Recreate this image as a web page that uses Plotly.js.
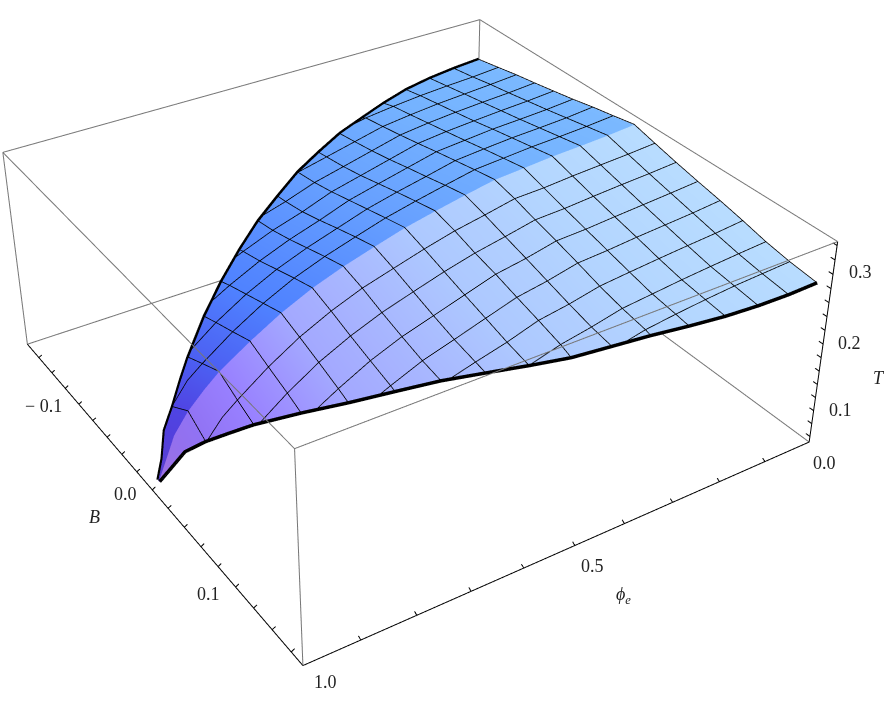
<!DOCTYPE html>
<html>
<head>
<meta charset="utf-8">
<script src="https://cdn.plot.ly/plotly-3.0.1.min.js"></script>
<style>
  html, body { margin: 0; width: 887px; height: 710px; overflow: hidden; background: #fff; }
  /* the reference has a narrow lens, so the gl scene is larger than the window */
  #graph { position: absolute; left: -146px; top: -503px; width: 1100px; height: 1599px; }
</style>
</head>
<body>
<div id="graph"></div>
<script>
// rows of the surface: phi_e = k/16 carry mesh lines, the others only round off the tip
const phiRows = [0, 0.0625, 0.125, 0.1875, 0.25, 0.3125, 0.375, 0.4375, 0.5, 0.5625,
  0.625, 0.6875, 0.75, 0.8125, 0.875, 0.905, 0.9375, 0.96, 0.98, 0.995];
const plainRows = [0.905, 0.96, 0.98, 0.995];
// B of the ridge and half width of the region in each row
const bCentre = [-0.0085, -0.0075, -0.0065, -0.0058, -0.0052, -0.0046, -0.004, -0.0031, -0.0023,
  -0.0012, -0.0001, 0.0014, 0.0029, 0.005, 0.0075, 0.0085, 0.0094, 0.0055, 0.0071, 0.0065];
const halfWidth = [0.1695, 0.1688, 0.1669, 0.1636, 0.158, 0.1511, 0.144, 0.1354, 0.1256,
  0.1145, 0.1021, 0.0882, 0.0733, 0.0568, 0.0393, 0.0303, 0.0203, 0.0128, 0.0051, 0.001];
const bStep = 0.0209;
// T in each row, from the ridge out: one value per B line, the last one on the black edge
const tLower = [
  [0.332, 0.3236, 0.3156, 0.3083, 0.3015, 0.294, 0.2856, 0.2795, 0.275],
  [0.330, 0.322, 0.314, 0.3065, 0.299, 0.2915, 0.2845, 0.279, 0.2745],
  [0.329, 0.321, 0.313, 0.305, 0.2975, 0.29, 0.283, 0.2785, 0.274],
  [0.328, 0.3195, 0.311, 0.303, 0.2955, 0.2875, 0.2805, 0.276, 0.2725],
  [0.3254, 0.317, 0.3085, 0.3005, 0.2925, 0.2845, 0.277, 0.2725, 0.2695],
  [0.323, 0.3163, 0.3075, 0.2994, 0.2906, 0.2811, 0.2735, 0.268, 0.2655],
  [0.3156, 0.308, 0.299, 0.2905, 0.2815, 0.2725, 0.2645, 0.2595],
  [0.308, 0.301, 0.2917, 0.2845, 0.2754, 0.2669, 0.2578, 0.2515],
  [0.2996, 0.291, 0.2815, 0.272, 0.263, 0.254, 0.2467],
  [0.2886, 0.280, 0.270, 0.260, 0.251, 0.2445, 0.2415],
  [0.277, 0.2688, 0.258, 0.2483, 0.2394, 0.234],
  [0.2635, 0.254, 0.243, 0.233, 0.2235, 0.221],
  [0.2455, 0.2351, 0.2242, 0.2126, 0.206],
  [0.224, 0.212, 0.2005, 0.191],
  [0.2003, 0.185, 0.173],
  [0.184, 0.170, 0.160],
  [0.163, 0.1445],
  [0.129, 0.121],
  [0.10, 0.093],
  [0.072, 0.072]
];
const tUpper = [
  [0.332, 0.3255, 0.3195, 0.3125, 0.3064, 0.3005, 0.295, 0.2885, 0.2815],
  [0.330, 0.3235, 0.317, 0.3105, 0.3045, 0.2985, 0.293, 0.2865, 0.2805],
  [0.329, 0.3225, 0.316, 0.3095, 0.3035, 0.2975, 0.2915, 0.2855, 0.2795],
  [0.328, 0.3215, 0.315, 0.3085, 0.3015, 0.2955, 0.2895, 0.2835, 0.2775],
  [0.3254, 0.319, 0.3125, 0.3055, 0.299, 0.2925, 0.286, 0.28, 0.2743],
  [0.323, 0.3165, 0.3095, 0.3025, 0.295, 0.288, 0.2815, 0.2755, 0.2707],
  [0.3156, 0.3085, 0.3005, 0.293, 0.285, 0.278, 0.272, 0.267],
  [0.308, 0.3005, 0.2925, 0.284, 0.2755, 0.2685, 0.263, 0.2604],
  [0.2996, 0.2915, 0.283, 0.2745, 0.266, 0.259, 0.254],
  [0.2886, 0.280, 0.2705, 0.2605, 0.2515, 0.2455, 0.2435],
  [0.277, 0.268, 0.258, 0.248, 0.2395, 0.2343],
  [0.2635, 0.254, 0.2435, 0.233, 0.2245, 0.222],
  [0.2455, 0.235, 0.2245, 0.214, 0.2077],
  [0.224, 0.2125, 0.2015, 0.193],
  [0.2003, 0.186, 0.173],
  [0.184, 0.171, 0.160],
  [0.163, 0.143],
  [0.129, 0.119],
  [0.10, 0.095],
  [0.072, 0.072]
];

const phiRange = [0, 1];
const bRange = [-0.178, 0.172];
const tRange = [0.0513, 0.3454];

const phiTicks = [0.1, 0.2, 0.3, 0.4, 0.5, 0.6, 0.7, 0.8, 0.9];
const bTicks = [-0.16, -0.14, -0.12, -0.1, -0.08, -0.06, -0.04, -0.02, 0, 0.02, 0.04, 0.06, 0.08, 0.1, 0.12, 0.14, 0.16];
const tTicks = [0.06, 0.08, 0.1, 0.12, 0.14, 0.16, 0.18, 0.2, 0.22, 0.24, 0.26, 0.28, 0.3, 0.32, 0.34];

// surface shade per row, [phi, r, g, b]
const upperColours = [[0, 123, 185, 255], [0.25, 116, 178, 255], [0.5, 102, 159, 255], [0.75, 79, 130, 255],
  [0.875, 76, 95, 242], [0.95, 80, 64, 224], [1, 90, 64, 208]];
const lowerColours = [[0, 184, 220, 255], [0.25, 180, 214, 255], [0.5, 173, 200, 255], [0.75, 163, 168, 255],
  [0.875, 152, 128, 255], [0.95, 144, 112, 242], [1, 159, 112, 224]];

const lift = 0.0008;

function bAt(i, sign, j, row) {
  if (j < row.length - 1) return bCentre[i] + sign * Math.min(j * bStep, halfWidth[i]);
  return bCentre[i] + sign * halfWidth[i];
}

function shade(stops, phi) {
  let n = 0;
  while (n < stops.length - 2 && phi > stops[n + 1][0]) n++;
  const a = stops[n], b = stops[n + 1], t = (phi - a[0]) / (b[0] - a[0]);
  const mix = k => Math.round(a[k] + t * (b[k] - a[k]));
  return 'rgb(' + mix(1) + ',' + mix(2) + ',' + mix(3) + ')';
}

// one half of the surface as triangles over the (row, B line) grid
function halfSurface(table, sign, colours) {
  const x = [], y = [], z = [], a = [], b = [], c = [], vertexcolor = [];
  table.forEach((row, i) => {
    for (let j = 0; j < 9; j++) {
      x.push(phiRows[i]);
      y.push(bAt(i, sign, j, row));
      z.push(j < row.length ? row[j] : row[row.length - 1]);
      vertexcolor.push(shade(colours, phiRows[i]));
      if (i + 1 < table.length && j < 8) {
        const n = i * 9 + j;
        a.push(n, n + 1);
        b.push(n + 1, n + 10);
        c.push(n + 9, n + 9);
      }
    }
  });
  return {
    type: 'mesh3d', x, y, z, i: a, j: b, k: c, vertexcolor,
    showscale: false, hoverinfo: 'skip', flatshading: false,
    lighting: {ambient: 1, diffuse: 0, specular: 0, fresnel: 0, roughness: 1}
  };
}

function addPoint(p, a, b, c) {
  p.x.push(a); p.y.push(b); p.z.push(c === null ? null : c + lift);
}

// thin mesh: phi lines across the whole width, B lines until they reach the edge
function meshLines() {
  const p = {x: [], y: [], z: []};
  phiRows.forEach((phi, i) => {
    if (plainRows.includes(phi)) return;
    for (let j = tLower[i].length - 1; j >= 0; j--) addPoint(p, phi, bAt(i, 1, j, tLower[i]), tLower[i][j]);
    for (let j = 1; j < tUpper[i].length; j++) addPoint(p, phi, bAt(i, -1, j, tUpper[i]), tUpper[i][j]);
    addPoint(p, null, null, null);
  });
  [[tLower, 1], [tUpper, -1]].forEach(([table, sign]) => {
    for (let j = 1; j < 8; j++) {
      let last = -1;
      for (let i = 0; i < table.length; i++) {
        if (j < table[i].length - 1) {
          addPoint(p, phiRows[i], bCentre[i] + sign * j * bStep, table[i][j]);
          last = i;
        } else break;
      }
      if (last >= 0 && last + 1 < table.length) {
        const next = last + 1;
        const t = Math.min(1, (halfWidth[last] - j * bStep) / (halfWidth[last] - halfWidth[next]));
        const edgeT = table[next][table[next].length - 1];
        addPoint(p, phiRows[last] + t * (phiRows[next] - phiRows[last]),
          bCentre[last] + t * (bCentre[next] - bCentre[last]) + sign * j * bStep,
          table[last][j] + t * (edgeT - table[last][j]));
      }
      addPoint(p, null, null, null);
    }
  });
  return {type: 'scatter3d', mode: 'lines', x: p.x, y: p.y, z: p.z, connectgaps: false,
    line: {color: '#000', width: 1.6}, hoverinfo: 'skip', showlegend: false};
}

function edgeLine(table, sign) {
  const p = {x: [], y: [], z: []};
  table.forEach((row, i) => addPoint(p, phiRows[i], bCentre[i] + sign * halfWidth[i], row[row.length - 1]));
  return {type: 'scatter3d', mode: 'lines', x: p.x, y: p.y, z: p.z,
    line: {color: '#000', width: 7}, hoverinfo: 'skip', showlegend: false};
}

function lineTrace(points, colour) {
  return {type: 'scatter3d', mode: 'lines',
    x: points.map(c => c ? c[0] : null), y: points.map(c => c ? c[1] : null), z: points.map(c => c ? c[2] : null),
    line: {color: colour, width: 2}, hoverinfo: 'skip', showlegend: false};
}

function frameEdges() {
  const [x0, x1] = phiRange, [y0, y1] = bRange, [z0, z1] = tRange;
  return lineTrace([[x0,y1,z1],[x0,y0,z1],[x1,y0,z1],[x1,y1,z1],[x0,y1,z1],null,
    [x0,y1,z0],[x0,y0,z0],[x1,y0,z0],null,
    [x0,y0,z0],[x0,y0,z1],null,[x1,y0,z0],[x1,y0,z1],null,[x1,y1,z0],[x1,y1,z1]], '#777777');
}

// the three axes that carry ticks, with their tick marks
function axisLines() {
  const [x0, x1] = phiRange, [y0, y1] = bRange, [z0, z1] = tRange;
  const pts = [[x0,y1,z1],[x0,y1,z0],[x1,y1,z0],[x1,y0,z0],null];
  const dx = 0.006, dy = 0.0022, dz = 0.0025;
  phiTicks.forEach(v => pts.push([v,y1,z0],[v,y1-dy,z0+dz],null));
  bTicks.forEach(v => pts.push([x1,v,z0],[x1-dx,v,z0+dz],null));
  tTicks.forEach(v => pts.push([x0,y1,v],[x0,y1-dy*1.6,v],null));
  return lineTrace(pts, '#000');
}

const axisOff = {
  visible: false, showgrid: false, zeroline: false, showbackground: false, showspikes: false,
  showticklabels: false, showline: false, ticks: '', title: {text: ''}
};

function label(x, y, z, text, right, down) {
  return {x, y, z, text, xshift: right, yshift: -down, showarrow: false,
    font: {family: 'Liberation Serif, serif', size: 18, color: '#222'}};
}

const annotations = [
  label(1, -0.1, tRange[0], '\u2212 0.1', -35, 2),
  label(1, 0, tRange[0], '0.0', -27, 4),
  label(1, 0.1, tRange[0], '0.1', -27, 7),
  label(1, bRange[1], tRange[0], '1.0', 23, 16),
  label(0.5, bRange[1], tRange[0], '0.5', 18, 20),
  label(0, bRange[1], tRange[0], '0.0', 15, 21),
  label(0, bRange[1], 0.1, '0.1', 27, -1),
  label(0, bRange[1], 0.2, '0.2', 26, -1),
  label(0, bRange[1], 0.3, '0.3', 27, -2),
  label(1, 0, tRange[0], '<i>B</i>', -58, 27),
  label(0.5, bRange[1], tRange[0], '<i>\u03d5</i><sub><i>e</i></sub>', 49, 50),
  label(0, bRange[1], 0.2, '<i>T</i>', 56, 34)
];

// a hair of room so the frame lines are not clipped at the scene bounds
const layout = {
  width: 1100, height: 1599,
  margin: {l: 0, r: 0, t: 0, b: 0},
  paper_bgcolor: '#fff',
  showlegend: false,
  scene: {
    domain: {x: [0, 1], y: [0, 1]},
    aspectmode: 'manual',
    aspectratio: {x: 1, y: 1, z: 0.4},
    camera: {eye: {x: 1.5069, y: 2.3314, z: 1.79}, center: {x: 0, y: 0, z: 0}, up: {x: 0, y: 0, z: 1}},
    xaxis: Object.assign({}, axisOff, {range: [phiRange[0] - 0.001, phiRange[1] + 0.001]}),
    yaxis: Object.assign({}, axisOff, {range: [bRange[0] - 0.0004, bRange[1] + 0.0004]}),
    zaxis: Object.assign({}, axisOff, {range: [tRange[0] - 0.0004, tRange[1] + 0.0004]}),
    annotations
  }
};

Plotly.newPlot('graph', [
  halfSurface(tLower, 1, lowerColours),
  halfSurface(tUpper, -1, upperColours),
  meshLines(),
  edgeLine(tLower, 1),
  edgeLine(tUpper, -1),
  frameEdges(),
  axisLines()
], layout, {displayModeBar: false});
</script>
</body>
</html>
